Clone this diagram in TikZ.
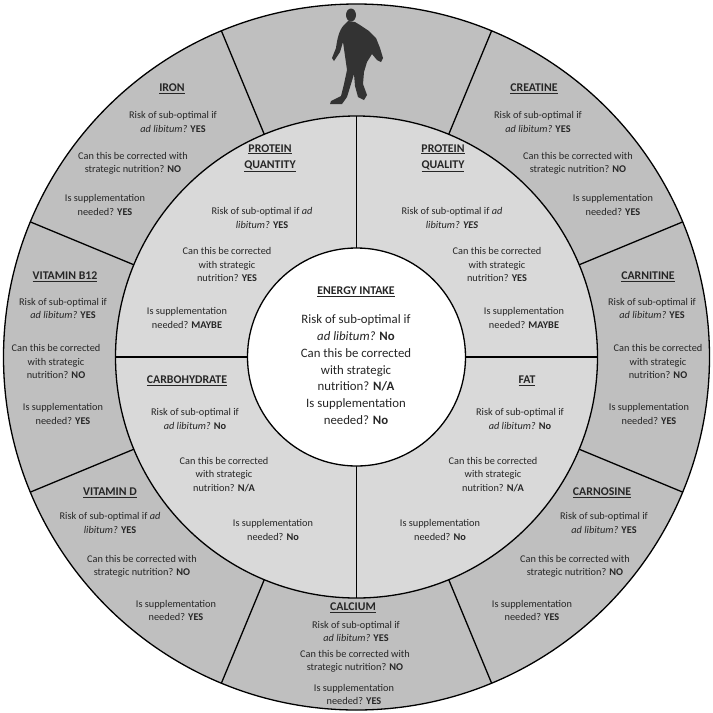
\documentclass[tikz,border=0pt]{standalone}
\usepackage{fontspec}
\setmainfont{Carlito}
\usetikzlibrary{calc}
\begin{document}
\begin{tikzpicture}[x=1pt,y=-1pt,
  txt/.style={align=center,font=\fontsize{10.3}{13.5}\selectfont,text=black!85,inner sep=0pt},
  big/.style={align=center,font=\fontsize{12.8}{16.3}\selectfont,text=black!85,inner sep=0pt},
  ttl/.style={align=center,font=\fontsize{11.8}{16}\selectfont\bfseries,text=black!85,inner sep=0pt},
  ring/.style={draw=black,line width=1.3pt}]
\useasboundingbox (0,0) rectangle (713,713);
\coordinate (c) at (356.5,357);
\fill[white] (0,0) rectangle (713,713);
\draw[ring,fill=black!25] (c) circle[radius=353];
\foreach \a in {22.5,67.5,...,337.5}{
  \draw[line width=1.3pt] ($(c)+(\a:241)$) -- ($(c)+(\a:353)$);
}
\draw[ring,fill=black!15] (c) circle[radius=241];
\draw[line width=1.3pt] ($(c)+(0,-241)$) -- ($(c)+(0,241)$);
\draw[line width=1.3pt] ($(c)+(-241,0)$) -- ($(c)+(241,0)$);
\draw[ring,fill=white] (c) circle[radius=109];
% runner
\fill[black!80] (351,15) ellipse[x radius=5,y radius=6.5];
\fill[black!80] (348,21) -- (344,25) .. controls (339,30) and (337,40) .. (336,48)
  -- (332,58) -- (334,61) -- (340,52) -- (343,42) -- (345,56) -- (347,70)
  -- (344,84) -- (341,96) -- (331,101) -- (330,104) -- (342,104) -- (347,97)
  -- (351,84) -- (354,74) -- (355,86) -- (358,97) -- (364,100) -- (367,95)
  -- (363,84) -- (364,72) -- (367,62) -- (372,54) -- (377,60) -- (381,62)
  -- (383,58) -- (380,48) -- (376,38) -- (369,31) -- (360,25) -- (355,22) -- cycle;
% center
\node[ttl] (et) at (356,292) {\underline{ENERGY INTAKE}};
\node[big] (e1) at (356,327.5) {Risk of sub-optimal if\\\textit{ad libitum?} \textbf{No}};
\node[big] (e2) at (356,370) {Can this be corrected\\with strategic\\nutrition? \textbf{N/A}};
\node[big] (e3) at (356,411.5) {Is supplementation\\needed? \textbf{No}};
% protein quantity
\node[ttl] (pq) at (270,158) {\underline{PROTEIN}\\\underline{QUANTITY}};
\node[txt] at (262,218) {Risk of sub-optimal if \textit{ad}\\\textit{libitum?} \textbf{YES}};
\node[txt] at (227,264.5) {Can this be corrected\\with strategic\\nutrition? \textbf{YES}};
\node[txt] at (187,318) {Is supplementation\\needed? \textbf{MAYBE}};
% protein quality
\node[ttl] (pl) at (443,158) {\underline{PROTEIN}\\\underline{QUALITY}};
\node[txt] at (452,218) {Risk of sub-optimal if \textit{ad}\\\textit{libitum?} \textbf{\textit{YES}}};
\node[txt] at (497,264.5) {Can this be corrected\\with strategic\\nutrition? \textbf{YES}};
\node[txt] at (524,318) {Is supplementation\\needed? \textbf{MAYBE}};
% carbohydrate
\node[ttl] (ch) at (187,381) {\underline{CARBOHYDRATE}};
\node[txt] at (195,419) {Risk of sub-optimal if\\\textit{ad libitum?} \textbf{No}};
\node[txt] at (224,474.5) {Can this be corrected\\with strategic\\nutrition? \textbf{N/A}};
\node[txt] at (273,530) {Is supplementation\\needed? \textbf{No}};
% fat
\node[ttl] (fa) at (527,381) {\underline{FAT}};
\node[txt] at (520,419) {Risk of sub-optimal if\\\textit{ad libitum?} \textbf{No}};
\node[txt] at (493,474.5) {Can this be corrected\\with strategic\\nutrition? \textbf{N/A}};
\node[txt] at (440,530) {Is supplementation\\needed? \textbf{No}};
% iron
\node[ttl] (ir) at (172,89) {\underline{IRON}};
\node[txt] at (173,122) {Risk of sub-optimal if\\\textit{ad libitum?} \textbf{YES}};
\node[txt] at (133,163.5) {Can this be corrected with\\strategic nutrition? \textbf{NO}};
\node[txt] at (105,205) {Is supplementation\\needed? \textbf{YES}};
% creatine
\node[ttl] (cr) at (534,89) {\underline{CREATINE}};
\node[txt] at (538,122) {Risk of sub-optimal if\\\textit{ad libitum?} \textbf{YES}};
\node[txt] at (578,163.5) {Can this be corrected with\\strategic nutrition? \textbf{NO}};
\node[txt] at (613,205) {Is supplementation\\needed? \textbf{YES}};
% b12
\node[ttl] (b12) at (65,277) {\underline{VITAMIN B12}};
\node[txt] at (63,308.5) {Risk of sub-optimal if\\\textit{ad libitum?} \textbf{YES}};
\node[txt] at (56,361.5) {Can this be corrected\\with strategic\\nutrition? \textbf{NO}};
\node[txt] at (63,414) {Is supplementation\\needed? \textbf{YES}};
% carnitine
\node[ttl] (cn) at (648,277) {\underline{CARNITINE}};
\node[txt] at (652,308.5) {Risk of sub-optimal if\\\textit{ad libitum?} \textbf{YES}};
\node[txt] at (658,361.5) {Can this be corrected\\with strategic\\nutrition? \textbf{NO}};
\node[txt] at (649,414) {Is supplementation\\needed? \textbf{YES}};
% vitamin D
\node[ttl] (vd) at (110,493) {\underline{VITAMIN D}};
\node[txt] at (110,523) {Risk of sub-optimal if \textit{ad}\\\textit{libitum?} \textbf{YES}};
\node[txt] at (142,566.5) {Can this be corrected with\\strategic nutrition? \textbf{NO}};
\node[txt] at (176,610.5) {Is supplementation\\needed? \textbf{YES}};
% carnosine
\node[ttl] (cs) at (602,493) {\underline{CARNOSINE}};
\node[txt] at (604,523) {Risk of sub-optimal if\\\textit{ad libitum?} \textbf{YES}};
\node[txt] at (575,566.5) {Can this be corrected with\\strategic nutrition? \textbf{NO}};
\node[txt] at (532,610.5) {Is supplementation\\needed? \textbf{YES}};
% calcium
\node[ttl] (ca) at (353,608) {\underline{CALCIUM}};
\node[txt] at (356,631.5) {Risk of sub-optimal if\\\textit{ad libitum?} \textbf{YES}};
\node[txt] at (355,661.5) {Can this be corrected with\\strategic nutrition? \textbf{NO}};
\node[txt] at (354,694.5) {Is supplementation\\needed? \textbf{YES}};
\end{tikzpicture}
\end{document}
